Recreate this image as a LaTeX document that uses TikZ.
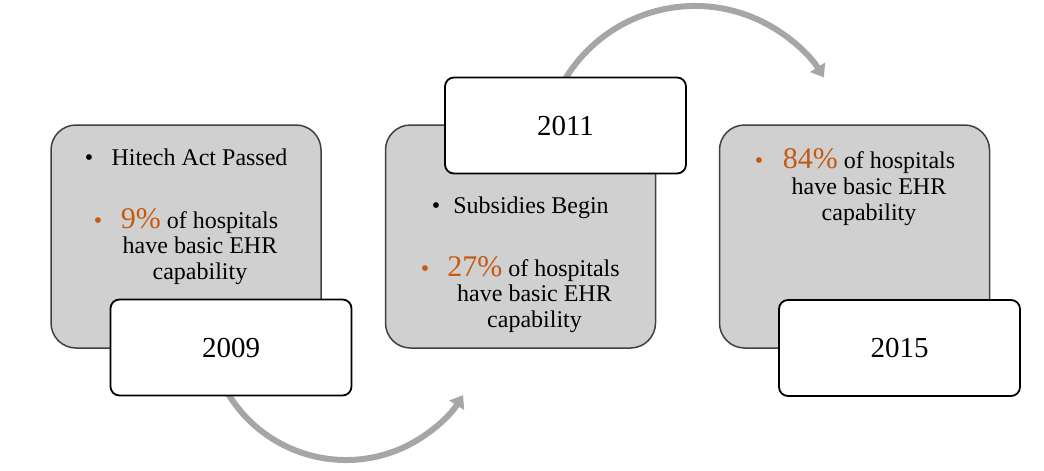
\documentclass[tikz,border=0pt]{standalone}
\usepackage{fontspec}
\setmainfont{Liberation Serif}
\usetikzlibrary{arrows.meta}
\definecolor{boxgrey}{HTML}{D0D0D0}
\definecolor{edgegrey}{HTML}{404040}
\definecolor{arcgrey}{HTML}{A6A6A6}
\definecolor{accent}{HTML}{C55A11}
\newcommand\pctval[1]{{\color{accent}\fontsize{30}{30}\selectfont #1}}
\begin{document}
\begin{tikzpicture}[x=1pt,y=-1pt,
  greybox/.style={draw=edgegrey, line width=1.5pt, fill=boxgrey, rounded corners=25pt, inner sep=0pt, outer sep=0pt, minimum width=270pt, minimum height=223pt},
  yearbox/.style={draw=black, line width=1.8pt, fill=white, rounded corners=9pt, inner sep=0pt, outer sep=0pt, minimum width=241pt, minimum height=96pt, font=\fontsize{29}{29}\selectfont},
  body/.style={anchor=base, inner sep=0pt, font=\fontsize{24}{24}\selectfont},
  blackbul/.style={anchor=base, inner sep=0pt, font=\fontsize{24}{24}\selectfont},
  orangebul/.style={anchor=base, inner sep=0pt, text=accent, font=\fontsize{24}{24}\selectfont},
  arcarrow/.style={draw=arcgrey, line width=6pt, -{Triangle[width=17pt,length=12pt]}}
]
\useasboundingbox (0,0) rectangle (1044,471);
% centres of the arcs
\coordinate (cb) at (346,322);
\coordinate (ct) at (695,158);
% arcs
\draw[arcarrow] (cb) ++(150:138) arc[start angle=150, end angle=32, radius=138];
\draw[arcarrow] (ct) ++(208:152) arc[start angle=208, end angle=328, radius=152];
% grey boxes
\node[greybox] (g1) at (186,236.5) {};
\node[greybox] (g2) at (520.5,236.5) {};
\node[greybox] (g3) at (854.5,236.5) {};
% year boxes
\node[yearbox] (y1) at (231,347.5) {2009};
\node[yearbox] (y2) at (565.5,125.5) {2011};
\node[yearbox] (y3) at (899.5,348) {2015};
% box 1 text
\node[blackbul] (b1a) at (89,165) {\textbullet};
\node[body] (t1a) at (199.5,165) {Hitech Act Passed};
\node[orangebul] (b1b) at (98,228) {\textbullet};
\node[body] (t1b) at (199.5,228) {\pctval{9\%} of hospitals};
\node[body] (t1c) at (200,253.5) {have basic EHR};
\node[body] (t1d) at (200,279) {capability};
% box 2 text
\node[blackbul] (b2a) at (436,213) {\textbullet};
\node[body] (t2a) at (531,213) {Subsidies Begin};
\node[orangebul] (b2b) at (425,276) {\textbullet};
\node[body] (t2b) at (533.5,276) {\pctval{27\%} of hospitals};
\node[body] (t2c) at (534.5,301.5) {have basic EHR};
\node[body] (t2d) at (534.5,327) {capability};
% box 3 text
\node[orangebul] (b3a) at (759,168) {\textbullet};
\node[body] (t3a) at (869,168) {\pctval{84\%} of hospitals};
\node[body] (t3b) at (869,194) {have basic EHR};
\node[body] (t3c) at (869,220) {capability};
\end{tikzpicture}
\end{document}
